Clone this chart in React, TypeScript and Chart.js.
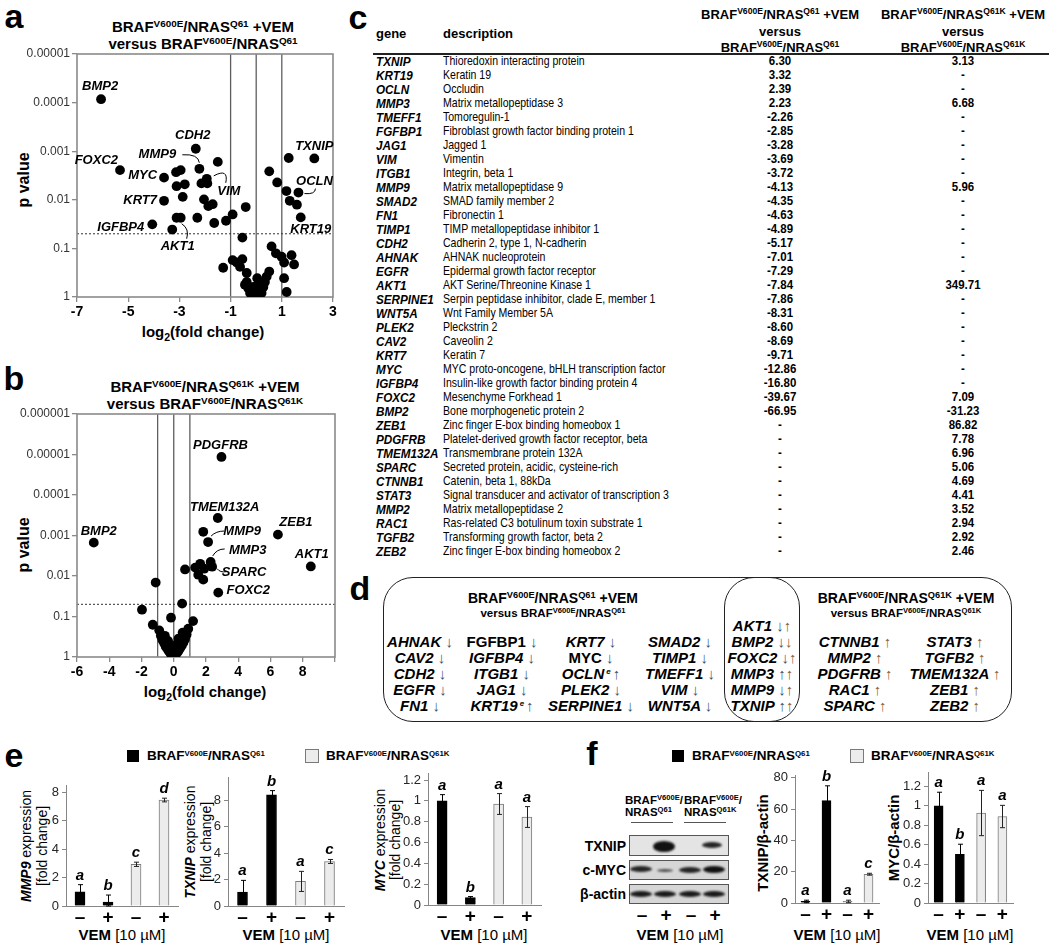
import React, { useEffect, useRef } from 'react';
import { Chart, registerables } from 'chart.js';

Chart.register(...registerables);

const SANS = '"Liberation Sans", Arial, Helvetica, sans-serif';
Chart.defaults.font.family = SANS;

// ================= Panel a: Q61 +VEM vs Q61 =================
const aLog2Fold = [
  -6.06, -5.32, -4.06, -3.6, -3.6, -3.28, -3.11, -2.95, -3.13, -2.95,
  -3.11, -2.79, -2.87, -2.36, -2.3, -2.22, -1.5, -2.14, -1.93, -1.91,
  -2.04, -1.87, -1.7, -1.64, -1.18, -0.92, -0.41, -0.54, 0.51, 0.82,
  1.27, 2.27, 1.18, 1.65, 1.31, 1.59, 1.74, 0.6, 0.77, 0.99,
  1.38, 1.48, 1.09, -1.29, -0.92, -0.76, -0.54, -0.63, -0.37, 0.04,
  0.51, 0.41, 1.09, 1.19, -0.44, -0.31, -0.18, 0.02, 0.15, 0.28,
  0.34, -0.37, -0.11, 0.08, 0.21, -0.24, -0.05,
];
const aPValue = [
  8.5e-5, 2.45e-3, 0.032, 3.5e-3, 0.0105, 0.041, 0.0234, 0.0234, 2.7e-3, 2.45e-3,
  5.25e-3, 4.8e-3, 8.7e-3, 8.9e-4, 0.0234, 2.3e-3, 1.66e-3, 4.6e-3, 3.7e-3, 4.6e-3,
  9.8e-3, 0.0135, 0.0123, 0.03, 0.027, 0.02, 0.0141, 0.06, 2.6e-3, 4.4e-3,
  1.38e-3, 1.41e-3, 6.6e-3, 7.1e-3, 0.0105, 0.0126, 0.023, 0.091, 0.126, 0.148,
  0.138, 0.214, 0.195, 0.25, 0.174, 0.195, 0.166, 0.24, 0.32, 0.41,
  0.3, 0.38, 0.41, 0.79, 0.56, 0.66, 0.78, 0.83, 0.72, 0.62,
  0.49, 0.49, 0.62, 0.56, 0.83, 0.83, 0.91,
];
const aLabeledGenes = ['BMP2', 'FOXC2', 'IGFBP4', 'MYC', 'KRT7', 'AKT1', 'CDH2', 'MMP9', 'VIM', 'TXNIP', 'OCLN', 'KRT19'];
const aLabeledIndex = [0, 1, 2, 3, 4, 7, 13, 15, 18, 31, 33, 36];
const aXTickLabels = ['-7', '-5', '-3', '-1', '1', '3'];
const aYTicks = [0.00001, 0.0001, 0.001, 0.01, 0.1, 1];
const aYTickLabels = ['0.00001', '0.0001', '0.001', '0.01', '0.1', '1'];

// ================= Panel b: Q61K +VEM vs Q61K =================
const bLog2Fold = [
  -4.96, 2.96, 2.73, 1.83, 2.13, 6.46, 8.5, 2.29, 2.38, 1.89,
  1.64, 1.33, 0.7, 1.52, 1.83, 2.76, -1.12, 0.52, -1.97, -0.17,
  -0.9, -0.8, -0.7, -0.6, -0.5, -0.4, -0.3, -0.2, -0.1,
  0.9, 0.8, 0.7, 0.6, 0.5, 0.4, 0.3, 0.2, 0.1, 0.0,
  -0.35, 0.3, -0.15, 0.15, 0.05, -0.55, 0.55, -1.3, 1.2,
];
const bPValue = [
  1.5e-3, 1.15e-5, 3.7e-4, 8.1e-4, 1.45e-3, 9.5e-4, 5.8e-3, 4.5e-3, 5.9e-3, 6.6e-3,
  5.0e-3, 6.2e-3, 6.9e-3, 9.3e-3, 0.0123, 0.0257, 0.0145, 0.048, 0.068, 0.107,
  0.22, 0.3, 0.38, 0.45, 0.55, 0.63, 0.72, 0.82, 0.9,
  0.2, 0.28, 0.36, 0.44, 0.52, 0.6, 0.7, 0.8, 0.88, 0.97,
  0.4, 0.35, 0.55, 0.5, 0.7, 0.3, 0.25, 0.16, 0.13,
];
const bLabeledGenes = ['BMP2', 'PDGFRB', 'TMEM132A', 'MMP9', 'ZEB1', 'AKT1', 'MMP3', 'SPARC', 'FOXC2'];
const bLabeledIndex = [0, 1, 2, 4, 5, 6, 7, 8, 15];
const bXTickLabels = ['-6', '-4', '-2', '0', '2', '4', '6', '8', ''];
const bYTicks = [0.000001, 0.00001, 0.0001, 0.001, 0.01, 0.1, 1];
const bYTickLabels = ['0.000001', '0.00001', '0.0001', '0.001', '0.01', '0.1', '1'];

const foldCutoffs = [-1, 0, 1];
const pCutoff = 0.05;

// ================= Panel c: table =================
const cGenes = ['TXNIP', 'KRT19', 'OCLN', 'MMP3', 'TMEFF1', 'FGFBP1', 'JAG1', 'VIM', 'ITGB1', 'MMP9', 'SMAD2', 'FN1', 'TIMP1', 'CDH2', 'AHNAK', 'EGFR', 'AKT1', 'SERPINE1', 'WNT5A', 'PLEK2', 'CAV2', 'KRT7', 'MYC', 'IGFBP4', 'FOXC2', 'BMP2', 'ZEB1', 'PDGFRB', 'TMEM132A', 'SPARC', 'CTNNB1', 'STAT3', 'MMP2', 'RAC1', 'TGFB2', 'ZEB2'];
const cDescriptions = [
  'Thioredoxin interacting protein', 'Keratin 19', 'Occludin', 'Matrix metallopeptidase 3', 'Tomoregulin-1',
  'Fibroblast growth factor binding protein 1', 'Jagged 1', 'Vimentin', 'Integrin, beta 1', 'Matrix metallopeptidase 9',
  'SMAD family member 2', 'Fibronectin 1', 'TIMP metallopeptidase inhibitor 1', 'Cadherin 2, type 1, N-cadherin', 'AHNAK nucleoprotein',
  'Epidermal growth factor receptor', 'AKT Serine/Threonine Kinase 1', 'Serpin peptidase inhibitor, clade E, member 1', 'Wnt Family Member 5A', 'Pleckstrin 2',
  'Caveolin 2', 'Keratin 7', 'MYC proto-oncogene, bHLH transcription factor', 'Insulin-like growth factor binding protein 4', 'Mesenchyme Forkhead 1',
  'Bone morphogenetic protein 2', 'Zinc finger E-box binding homeobox 1', 'Platelet-derived growth factor receptor, beta', 'Transmembrane protein 132A', 'Secreted protein, acidic, cysteine-rich',
  'Catenin, beta 1, 88kDa', 'Signal transducer and activator of transcription 3', 'Matrix metallopeptidase 2', 'Ras-related C3 botulinum toxin substrate 1', 'Transforming growth factor, beta 2',
  'Zinc finger E-box binding homeobox 2',
];
const cFoldQ61 = [6.3, 3.32, 2.39, 2.23, -2.26, -2.85, -3.28, -3.69, -3.72, -4.13, -4.35, -4.63, -4.89, -5.17, -7.01, -7.29, -7.84, -7.86, -8.31, -8.6, -8.69, -9.71, -12.86, -16.8, -39.67, -66.95, null, null, null, null, null, null, null, null, null, null];
const cFoldQ61K = [3.13, null, null, 6.68, null, null, null, null, null, 5.96, null, null, null, null, null, null, 349.71, null, null, null, null, null, null, null, 7.09, -31.23, 86.82, 7.78, 6.96, 5.06, 4.69, 4.41, 3.52, 2.94, 2.92, 2.46];

// ================= Panel d: overlap =================
const dQ61Only = [
  ['AHNAK', '↓'], ['CAV2', '↓'], ['CDH2', '↓'], ['EGFR', '↓'], ['FN1', '↓'],
  ['FGFBP1', '↓'], ['IGFBP4', '↓'], ['ITGB1', '↓'], ['JAG1', '↓'], ['KRT19', '↑'],
  ['KRT7', '↓'], ['MYC', '↓'], ['OCLN', '↑'], ['PLEK2', '↓'], ['SERPINE1', '↓'],
  ['SMAD2', '↓'], ['TIMP1', '↓'], ['TMEFF1', '↓'], ['VIM', '↓'], ['WNT5A', '↓'],
];
const dShared = [['AKT1', '↓', '↑'], ['BMP2', '↓', '↓'], ['FOXC2', '↓', '↑'], ['MMP3', '↑', '↑'], ['MMP9', '↓', '↑'], ['TXNIP', '↑', '↑']];
const dQ61KOnly = [
  ['CTNNB1', '↑'], ['MMP2', '↑'], ['PDGFRB', '↑'], ['RAC1', '↑'], ['SPARC', '↑'],
  ['STAT3', '↑'], ['TGFB2', '↑'], ['TMEM132A', '↑'], ['ZEB1', '↑'], ['ZEB2', '↑'],
];
const dUpright = ['FGFBP1', 'MYC'];
const dFootnoteE = ['OCLN', 'KRT19'];

// ================= Panels e / f: bars =================
const vemLabels = ['–', '+', '–', '+'];
const eMMP9 = [1.0, 0.27, 2.93, 7.45];
const eMMP9Err = [0.5, 0.5, 0.15, 0.13];
const eMMP9Letters = ['a', 'b', 'c', 'd'];
const eMMP9Ticks = [0, 2, 4, 6, 8];
const eTXNIP = [1.06, 8.41, 1.86, 3.37];
const eTXNIPErr = [0.88, 0.32, 0.76, 0.15];
const eTXNIPLetters = ['a', 'b', 'a', 'c'];
const eTXNIPTicks = [0, 2, 4, 6, 8];
const eMYC = [1.0, 0.071, 0.97, 0.845];
const eMYCErr = [0.06, 0.01, 0.1, 0.1];
const eMYCLetters = ['a', 'b', 'a', 'a'];
const eMYCTicks = [0, 0.2, 0.4, 0.6, 0.8, 1, 1.2];
const fTXNIP = [1.0, 65.4, 1.0, 18.4];
const fTXNIPErr = [0.8, 9.5, 0.8, 0.6];
const fTXNIPLetters = ['a', 'b', 'a', 'c'];
const fTXNIPTicks = [0, 20, 40, 60, 80];
const fMYC = [1.0, 0.5, 0.926, 0.89];
const fMYCErr = [0.14, 0.105, 0.233, 0.115];
const fMYCLetters = ['a', 'b', 'a', 'a'];
const fMYCTicks = [0, 0.2, 0.4, 0.6, 0.8, 1, 1.2];

const barFill = ['#000000', '#000000', '#ececec', '#ececec'];
const barEdge = ['#000000', '#000000', '#7a7a7a', '#7a7a7a'];

// ---------------- label layout (pixels relative to point) ----------------
type LabelSpec = { dx: number; dy: number; align?: CanvasTextAlign; leader?: number[] };
const aLabelLayout: Record<string, LabelSpec> = {
  BMP2: { dx: -1, dy: -13 },
  FOXC2: { dx: -2, dy: -10, align: 'right' },
  IGFBP4: { dx: -8, dy: 3, align: 'right' },
  MYC: { dx: -7, dy: -2, align: 'right' },
  KRT7: { dx: -7, dy: 0, align: 'right' },
  AKT1: { dx: -3, dy: 29, leader: [6, 21, 9, 11, 1, 6] },
  CDH2: { dx: -3, dy: -13 },
  MMP9: { dx: -42, dy: -14, leader: [-17, -14, -1, -15, 0, -6] },
  VIM: { dx: 22, dy: 13, leader: [19, 4, 22, -11, 7, -3] },
  TXNIP: { dx: 0, dy: -12 },
  OCLN: { dx: 16, dy: -11, leader: [17, -4, 17, 2, 6, 1] },
  KRT19: { dx: 10, dy: 12 },
};
const bLabelLayout: Record<string, LabelSpec> = {
  BMP2: { dx: 5, dy: -11 },
  PDGFRB: { dx: -1, dy: -12 },
  TMEM132A: { dx: 7, dy: -11 },
  MMP9: { dx: 34, dy: -11, leader: [16, -11, 8, -11, 3, -6] },
  ZEB1: { dx: 18, dy: -12 },
  AKT1: { dx: 1, dy: -12 },
  MMP3: { dx: 37, dy: -12, leader: [14, -13, 6, -13, 2, -6] },
  SPARC: { dx: 32, dy: 6, leader: [14, 5, 8, 6, 5, 2] },
  FOXC2: { dx: 30, dy: -2 },
};

// ---------------- plugins ----------------
const volcanoDecor = {
  id: 'volcanoDecor',
  beforeDatasetsDraw(chart: any, _a: any, o: any) {
    const { ctx, chartArea: ca, scales } = chart;
    const x = scales.x;
    const y = scales.y;
    ctx.save();
    ctx.strokeStyle = '#5e5e5e';
    ctx.lineWidth = 1.3;
    for (const v of o.vlines) {
      const px = x.getPixelForValue(v);
      ctx.beginPath();
      ctx.moveTo(px, ca.top);
      ctx.lineTo(px, ca.bottom);
      ctx.stroke();
    }
    const py = y.getPixelForValue(o.hline);
    ctx.setLineDash([2, 2]);
    ctx.strokeStyle = '#333';
    ctx.lineWidth = 1;
    ctx.beginPath();
    ctx.moveTo(ca.left, py);
    ctx.lineTo(ca.right, py);
    ctx.stroke();
    ctx.setLineDash([]);
    ctx.strokeStyle = '#8a8a8a';
    ctx.lineWidth = 1.6;
    ctx.strokeRect(ca.left, ca.top, ca.right - ca.left, ca.bottom - ca.top);
    ctx.restore();
  },
  afterDatasetsDraw(chart: any, _a: any, o: any) {
    const { ctx } = chart;
    const meta = chart.getDatasetMeta(0);
    ctx.save();
    ctx.fillStyle = '#000';
    ctx.strokeStyle = '#000';
    ctx.lineWidth = 1;
    ctx.font = 'italic bold 13px ' + SANS;
    ctx.textBaseline = 'middle';
    o.genes.forEach((g: string, k: number) => {
      const el = meta.data[o.index[k]];
      const L = o.layout[g];
      if (!el || !L) return;
      ctx.textAlign = L.align || 'center';
      ctx.fillText(g, el.x + L.dx, el.y + L.dy);
      if (L.leader) {
        const [x1, y1, cx, cy, x2, y2] = L.leader;
        ctx.beginPath();
        ctx.moveTo(el.x + x1, el.y + y1);
        ctx.quadraticCurveTo(el.x + cx, el.y + cy, el.x + x2, el.y + y2);
        ctx.stroke();
      }
    });
    ctx.restore();
  },
};

const fmtTick = (v: number) => String(Number(Number(v).toFixed(2)));

const barDecor = {
  id: 'barDecor',
  afterDatasetsDraw(chart: any, _a: any, o: any) {
    const { ctx } = chart;
    const y = chart.scales.y;
    const meta = chart.getDatasetMeta(0);
    ctx.save();
    ctx.lineWidth = 1;
    meta.data.forEach((bar: any, i: number) => {
      const v = o.values[i];
      const e = o.errors[i];
      const top = y.getPixelForValue(v + e);
      const bot = y.getPixelForValue(Math.max(0, v - e));
      const xx = Math.round(bar.x) + 0.5;
      ctx.strokeStyle = i < 2 ? '#000' : '#222';
      ctx.beginPath();
      ctx.moveTo(xx, top);
      ctx.lineTo(xx, bot);
      ctx.moveTo(xx - 2.5, top);
      ctx.lineTo(xx + 2.5, top);
      ctx.moveTo(xx - 2.5, bot);
      ctx.lineTo(xx + 2.5, bot);
      ctx.stroke();
      ctx.fillStyle = '#000';
      ctx.font = 'italic bold 15px ' + SANS;
      ctx.textAlign = 'center';
      ctx.textBaseline = 'alphabetic';
      ctx.fillText(o.letters[i], bar.x, top - 5);
    });
    ctx.restore();
  },
};

// ---------------- config builders ----------------
function volcanoConfig(p: any) {
  return {
    type: 'scatter',
    data: {
      datasets: [{
        data: p.fold.map((f: number, i: number) => ({ x: f, y: p.pval[i] })),
        backgroundColor: '#000',
        borderWidth: 0,
        pointRadius: 4.9,
        pointHoverRadius: 4.9,
      }],
    },
    options: {
      animation: false,
      responsive: false,
      events: [],
      layout: { padding: { top: 10, right: 12, left: 0, bottom: 0 } },
      plugins: {
        legend: { display: false },
        tooltip: { enabled: false },
        volcanoDecor: { vlines: foldCutoffs, hline: pCutoff, genes: p.genes, index: p.index, layout: p.layout },
      },
      scales: {
        x: {
          type: 'linear', min: p.xMin, max: p.xMax,
          border: { display: false },
          grid: { drawOnChartArea: false, drawTicks: true, tickLength: 5, color: '#8a8a8a', lineWidth: 1.3 },
          ticks: { stepSize: p.xStep, color: '#000', font: { size: 14, weight: 'bold' }, padding: 2, maxRotation: 0, autoSkip: false, callback: (_v: any, i: number) => p.xLabels[i] },
          afterFit: (s: any) => { s.height = p.xAxisH; },
        },
        y: {
          type: 'logarithmic', reverse: true, min: p.yTicks[0], max: p.yTicks[p.yTicks.length - 1],
          afterBuildTicks: (s: any) => { s.ticks = p.yTicks.map((v: number) => ({ value: v })); },
          border: { display: false },
          grid: { drawOnChartArea: false, drawTicks: true, tickLength: 5, color: '#8a8a8a', lineWidth: 1.3 },
          ticks: { color: '#333', font: { size: 12 }, padding: 2, autoSkip: false, callback: (_v: any, i: number) => p.yLabels[i] },
          afterFit: (s: any) => { s.width = p.yAxisW; },
        },
      },
    },
    plugins: [volcanoDecor],
  };
}

function barConfig(p: any) {
  return {
    type: 'bar',
    data: {
      labels: vemLabels,
      datasets: [{ data: p.values, backgroundColor: barFill, borderColor: barEdge, borderWidth: 1, barThickness: p.barW }],
    },
    options: {
      animation: false,
      responsive: false,
      events: [],
      layout: { padding: { top: 10, right: 10, left: 0, bottom: 0 } },
      plugins: {
        legend: { display: false },
        tooltip: { enabled: false },
        barDecor: { values: p.values, errors: p.errors, letters: p.letters },
      },
      scales: {
        x: {
          grid: { display: false, drawTicks: false, tickLength: 0 },
          border: { color: '#868686', width: 1 },
          ticks: { color: '#000', font: { size: 19, weight: 'bold' }, padding: 0, maxRotation: 0, autoSkip: false },
          afterFit: (s: any) => { s.height = 23; },
        },
        y: {
          type: 'linear', min: 0, max: p.yMax,
          afterBuildTicks: (s: any) => { s.ticks = p.yTicks.map((v: number) => ({ value: v })); },
          border: { color: '#868686', width: 1 },
          grid: { drawOnChartArea: false, drawTicks: true, tickLength: 4, color: '#868686' },
          ticks: { autoSkip: false, color: '#262626', font: { size: 13 }, padding: 3, callback: (_v: any, i: number) => fmtTick(p.yTicks[i]) },
          afterFit: (s: any) => { s.width = p.yAxisW; },
        },
      },
    },
    plugins: [barDecor],
  };
}

// ---------------- components ----------------
function ChartBox({ x, y, w, h, make }: { x: number; y: number; w: number; h: number; make: () => any }) {
  const ref = useRef<HTMLCanvasElement>(null);
  useEffect(() => {
    const c = new Chart(ref.current as HTMLCanvasElement, make());
    return () => c.destroy();
  }, []);
  return <canvas ref={ref} width={w} height={h} style={{ position: 'absolute', left: x, top: y, width: w, height: h, zIndex: 2 }} />;
}

function T({ x, y, a = 'c', size = 14, bold = false, italic = false, color = '#000', rot = 0, sx = 1, style = {}, children }: any) {
  const tx = a === 'l' ? '0' : a === 'r' ? '-100%' : '-50%';
  const origin = a === 'l' ? 'left center' : a === 'r' ? 'right center' : 'center center';
  return (
    <div
      style={{
        position: 'absolute', left: x, top: y, whiteSpace: 'pre', lineHeight: 1,
        transform: `translate(${tx},-50%)${rot ? ` rotate(${rot}deg)` : ''}${sx !== 1 ? ` scaleX(${sx})` : ''}`,
        transformOrigin: rot ? 'center center' : origin,
        fontFamily: SANS, fontSize: size, fontWeight: bold ? 700 : 400, fontStyle: italic ? 'italic' : 'normal', color,
        zIndex: 1,
        ...style,
      }}
    >
      {children}
    </div>
  );
}

const Sup = ({ children, s = 0.66 }: any) => <sup style={{ fontSize: `${s}em`, lineHeight: 0, verticalAlign: '0.5em' }}>{children}</sup>;
const Geno = ({ k, s }: { k: string; s?: number }) => <>BRAF<Sup s={s}>V600E</Sup>/NRAS<Sup s={s}>{k}</Sup></>;

function Legend({ x, y }: { x: number; y: number }) {
  return (
    <>
      <div style={{ position: 'absolute', left: x, top: y - 6, width: 12, height: 12, background: '#000' }} />
      <T x={x + 20} y={y} a="l" size={13.5} bold><Geno k="Q61" s={0.58} /></T>
      <div style={{ position: 'absolute', left: x + 178, top: y - 7, width: 12, height: 12, background: '#ececec', border: '1px solid #7a7a7a' }} />
      <T x={x + 199} y={y} a="l" size={13.5} bold><Geno k="Q61K" s={0.58} /></T>
    </>
  );
}

const Vem = ({ x, y }: { x: number; y: number }) => (
  <T x={x} y={y} size={15}><b>VEM</b> [10 µM]</T>
);

function Band({ cx, cy, w, h, o = 1 }: any) {
  return <div style={{ position: 'absolute', left: cx - w / 2, top: cy - h / 2, width: w, height: h, borderRadius: '50%', background: '#111', opacity: o, filter: 'blur(1px)' }} />;
}

function Blot() {
  const lanes = [641, 665, 690, 714];
  const box = (top: number, h: number, bg: string) => (
    <div style={{ position: 'absolute', left: 629, top, width: 100, height: h, background: bg, border: '1.5px solid #555', boxSizing: 'border-box' }} />
  );
  return (
    <>
      <T x={625} y={801} a="l" size={11.5} bold>BRAF<Sup>V600E</Sup>/</T>
      <T x={625} y={813} a="l" size={11.5} bold>NRAS<Sup>Q61</Sup></T>
      <T x={684} y={801} a="l" size={11.5} bold>BRAF<Sup>V600E</Sup>/</T>
      <T x={684} y={813} a="l" size={11.5} bold>NRAS<Sup>Q61K</Sup></T>
      <div style={{ position: 'absolute', left: 631, top: 822, width: 42, height: 1, background: '#555' }} />
      <div style={{ position: 'absolute', left: 684, top: 822, width: 42, height: 1, background: '#555' }} />
      {box(835, 21, '#e4e4e4')}
      {box(860, 20, '#d6d6d6')}
      {box(884, 20, '#d6d6d6')}
      <Band cx={664} cy={846} w={22} h={11} />
      <Band cx={712} cy={845} w={20} h={6} o={0.9} />
      <Band cx={641} cy={869} w={22} h={6} o={0.9} />
      <Band cx={665} cy={870} w={16} h={3} o={0.7} />
      <Band cx={690} cy={870} w={22} h={6} o={0.9} />
      <Band cx={714} cy={869} w={22} h={7} />
      {lanes.map((lx) => <Band key={lx} cx={lx} cy={894} w={22} h={6} o={0.95} />)}
      <T x={626} y={846} a="r" size={14} bold>TXNIP</T>
      <T x={626} y={870} a="r" size={14} bold>c-MYC</T>
      <T x={626} y={894} a="r" size={14} bold>β-actin</T>
      {lanes.map((lx, i) => <T key={i} x={lx + 1} y={914} size={19} bold>{vemLabels[i]}</T>)}
    </>
  );
}

function PanelD() {
  const colX = [420, 502, 591, 680];
  const rowY = [641, 657, 673, 689, 705];
  const gstyle = (g: string) => ({ fontStyle: dUpright.includes(g) ? 'normal' : 'italic' });
  const q61Arrow = '#3a5573';
  const q61kArrow = '#8b5e34';
  return (
    <>
      <div style={{ position: 'absolute', left: 383, top: 577, width: 629, height: 145, border: '1.5px solid #222', borderRadius: 30, boxSizing: 'border-box' }} />
      <div style={{ position: 'absolute', left: 724, top: 577, width: 76, height: 145, border: '1.5px solid #222', borderRadius: 30, boxSizing: 'border-box' }} />
      <T x={553} y={598} size={14} bold><Geno k="Q61" /> +VEM</T>
      <T x={553} y={614} size={11.5} bold>versus <Geno k="Q61" /></T>
      <T x={906} y={598} size={14} bold><Geno k="Q61K" /> +VEM</T>
      <T x={906} y={614} size={11.5} bold>versus <Geno k="Q61K" /></T>
      {dQ61Only.map(([g, ar], i) => (
        <T key={g} x={colX[Math.floor(i / 5)]} y={rowY[i % 5]} size={15} bold style={gstyle(g)}>
          {g}{dFootnoteE.includes(g) ? <span style={{ fontSize: 8, verticalAlign: '0.6em', margin: '0 2px' }}>e</span> : ' '}
          <span style={{ fontWeight: 400, fontStyle: 'normal', color: q61Arrow }}>{ar}</span>
        </T>
      ))}
      {dShared.map(([g, a1, a2], i) => (
        <T key={g} x={762} y={625 + i * 16} size={15} bold italic>
          {g} <span style={{ fontWeight: 400, fontStyle: 'normal', color: q61Arrow }}>{a1}</span><span style={{ fontWeight: 400, fontStyle: 'normal', color: q61kArrow }}>{a2}</span>
        </T>
      ))}
      {dQ61KOnly.map(([g, ar], i) => (
        <T key={g} x={i < 5 ? 855 : 955} y={rowY[i % 5]} size={15} bold italic>
          {g} <span style={{ fontWeight: 400, fontStyle: 'normal', color: q61kArrow }}>{ar}</span>
        </T>
      ))}
    </>
  );
}

function PanelC() {
  const fmt = (v: number | null) => (v === null ? '-' : v.toFixed(2));
  const c3 = 780;
  const c4 = 963;
  return (
    <>
      <T x={376} y={33} a="l" size={13} bold>gene</T>
      <T x={443} y={33} a="l" size={13} bold>description</T>
      <T x={c3} y={14} size={13} bold><Geno k="Q61" /> +VEM</T>
      <T x={c3} y={31} size={13} bold>versus</T>
      <T x={c3} y={47} size={13} bold><Geno k="Q61" /></T>
      <T x={c4} y={14} size={13} bold><Geno k="Q61K" /> +VEM</T>
      <T x={c4} y={31} size={13} bold>versus</T>
      <T x={c4} y={47} size={13} bold><Geno k="Q61K" /></T>
      <div style={{ position: 'absolute', left: 373, top: 53, width: 676, height: 2, background: '#222' }} />
      {cGenes.map((g, i) => {
        const y = 61 + i * 14;
        return (
          <React.Fragment key={g}>
            <T x={376} y={y} a="l" size={13} bold italic sx={0.9}>{g}</T>
            <T x={443} y={y} a="l" size={13.5} sx={0.78}>{cDescriptions[i]}</T>
            <T x={c3} y={y} size={13.5} bold sx={0.85}>{fmt(cFoldQ61[i])}</T>
            <T x={c4} y={y} size={13.5} bold sx={0.85}>{fmt(cFoldQ61K[i])}</T>
          </React.Fragment>
        );
      })}
    </>
  );
}

export default function App() {
  return (
    <div style={{ position: 'absolute', left: 0, top: 0, width: 1050, height: 944, background: '#fff', overflow: 'hidden', fontFamily: SANS }}>
      {/* panel letters */}
      <T x={14} y={16} size={34} bold>a</T>
      <T x={14} y={378} size={34} bold>b</T>
      <T x={358} y={17} size={34} bold>c</T>
      <T x={360} y={588} size={34} bold>d</T>
      <T x={14} y={755} size={34} bold>e</T>
      <T x={592} y={753} size={34} bold>f</T>

      {/* panel a */}
      <T x={203} y={26} size={15} bold><Geno k="Q61" /> +VEM</T>
      <T x={203} y={43} size={15} bold>versus <Geno k="Q61" /></T>
      <T x={24} y={180} size={16} bold rot={-90}>p value</T>
      <ChartBox x={0} y={44} w={345} h={283} make={() => volcanoConfig({
        fold: aLog2Fold, pval: aPValue, genes: aLabeledGenes, index: aLabeledIndex, layout: aLabelLayout,
        xMin: -7, xMax: 3, xStep: 2, xLabels: aXTickLabels, yTicks: aYTicks, yLabels: aYTickLabels, yAxisW: 77, xAxisH: 30,
      })} />
      <T x={203} y={331} size={15} bold>log<sub style={{ fontSize: '0.7em', lineHeight: 0 }}>2</sub>(fold change)</T>

      {/* panel b */}
      <T x={205} y={386} size={15} bold><Geno k="Q61K" /> +VEM</T>
      <T x={205} y={403} size={15} bold>versus <Geno k="Q61K" /></T>
      <T x={24} y={545} size={16} bold rot={-90}>p value</T>
      <ChartBox x={0} y={404} w={347} h={283} make={() => volcanoConfig({
        fold: bLog2Fold, pval: bPValue, genes: bLabeledGenes, index: bLabeledIndex, layout: bLabelLayout,
        xMin: -6, xMax: 10, xStep: 2, xLabels: bXTickLabels, yTicks: bYTicks, yLabels: bYTickLabels, yAxisW: 77, xAxisH: 30,
      })} />
      <T x={205} y={691} size={15} bold>log<sub style={{ fontSize: '0.7em', lineHeight: 0 }}>2</sub>(fold change)</T>

      <PanelC />
      <PanelD />

      {/* panel e */}
      <Legend x={127} y={756} />
      <T x={26} y={846} size={14} rot={-90}><b><i>MMP9</i></b> expression</T>
      <T x={42} y={846} size={14} rot={-90}>[fold change]</T>
      <ChartBox x={16} y={775} w={172} h={154} make={() => barConfig({ values: eMMP9, errors: eMMP9Err, letters: eMMP9Letters, yMax: 8.45, yTicks: eMMP9Ticks, yAxisW: 50, barW: 10 })} />
      <Vem x={122} y={934} />
      <T x={190} y={842} size={14} rot={-90}><b><i>TXNIP</i></b> expression</T>
      <T x={206} y={842} size={14} rot={-90}>[fold change]</T>
      <ChartBox x={178} y={767} w={176} h={162} make={() => barConfig({ values: eTXNIP, errors: eTXNIPErr, letters: eTXNIPLetters, yMax: 9.7, yTicks: eTXNIPTicks, yAxisW: 50, barW: 10 })} />
      <Vem x={286} y={934} />
      <T x={380} y={840} size={14} rot={-90}><b><i>MYC</i></b> expression</T>
      <T x={395} y={840} size={14} rot={-90}>[fold change]</T>
      <ChartBox x={384} y={763} w={167} h={165} make={() => barConfig({ values: eMYC, errors: eMYCErr, letters: eMYCLetters, yMax: 1.26, yTicks: eMYCTicks, yAxisW: 44, barW: 10 })} />
      <Vem x={484} y={934} />

      {/* panel f */}
      <Legend x={672} y={756} />
      <Blot />
      <Vem x={680} y={934} />
      <T x={762} y={843} size={15} bold rot={-90}>TXNIP/β-actin</T>
      <ChartBox x={750} y={765} w={139} h={161} make={() => barConfig({ values: fTXNIP, errors: fTXNIPErr, letters: fTXNIPLetters, yMax: 81.3, yTicks: fTXNIPTicks, yAxisW: 45, barW: 9 })} />
      <Vem x={837} y={934} />
      <T x={893} y={838} size={15} bold rot={-90}>MYC/β-actin</T>
      <ChartBox x={885} y={762} w={138} h={164} make={() => barConfig({ values: fMYC, errors: fMYCErr, letters: fMYCLetters, yMax: 1.34, yTicks: fMYCTicks, yAxisW: 43, barW: 9 })} />
      <Vem x={970} y={934} />
    </div>
  );
}
